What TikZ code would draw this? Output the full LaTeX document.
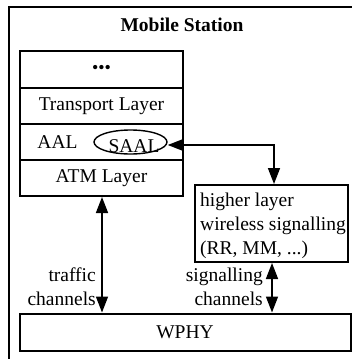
\documentclass[tikz,border=0pt]{standalone}
\usepackage{fontspec}
\setmainfont{Liberation Serif}
\usetikzlibrary{arrows.meta,shapes.geometric}
\begin{document}
\begin{tikzpicture}[x=1pt,y=-1pt,
  box/.style={draw,line width=2pt,inner sep=0pt},
  lbl/.style={font=\fontsize{19.5}{24}\selectfont,inner sep=0pt},
  arr/.style={line width=1.6pt,{Triangle[length=16pt,width=12pt]}-{Triangle[length=16pt,width=12pt]}}]
\useasboundingbox (0,0) rectangle (352,359);
\clip (0,0) rectangle (352,359);
\draw[line width=1.2pt] (9,7) rectangle (358,366);
\node[lbl,font=\bfseries\fontsize{19.5}{24}\selectfont] (title) at (182,25) {Mobile Station};
% protocol stack
\node[box,minimum width=163pt,minimum height=37pt,font=\fontsize{18}{18}\selectfont] (dots) at (101.5,69.5) {•••};
\node[box,lbl,minimum width=163pt,minimum height=36pt] (tl) at (101.5,106) {Transport Layer};
\node[box,minimum width=163pt,minimum height=36pt] (aal) at (101.5,142) {};
\node[box,lbl,minimum width=163pt,minimum height=36pt] (atm) at (101.5,178) {ATM Layer};
\node[lbl] (aaltxt) at (57.5,142) {AAL};
\node[draw,ellipse,line width=1.4pt,minimum width=73pt,minimum height=24pt,inner sep=0pt] (saalell) at (130.5,142) {};
\node[lbl] (saal) at (134,146) {SAAL};
% higher layer box
\node[box,minimum width=153pt,minimum height=77pt] (hl) at (271.5,223.5) {};
\node[lbl,anchor=west,align=left] (hltxt) at (200,226) {higher layer\\wireless signalling\\(RR, MM, ...)};
% WPHY
\node[box,lbl,minimum width=331pt,minimum height=37pt] (wphy) at (185,332) {WPHY};
% arrows
\coordinate (trtop) at (atm.south -| 102,0);
\coordinate (trbot) at (wphy.north -| 102,0);
\draw[arr] (trtop) -- (trbot);
\coordinate (sgtop) at (hl.south -| 272,0);
\coordinate (sgbot) at (wphy.north -| 272,0);
\draw[arr] (sgtop) -- (sgbot);
\coordinate (bend) at (274,145);
\draw[arr] (saalell.east |- bend) -- (bend) -- (hl.north -| bend);
% labels
\node[lbl,anchor=east,align=right] (trlbl) at (96,287) {traffic\\channels};
\node[lbl,anchor=east,align=right] (sglbl) at (263,287) {signalling\\channels};
\end{tikzpicture}
\end{document}
